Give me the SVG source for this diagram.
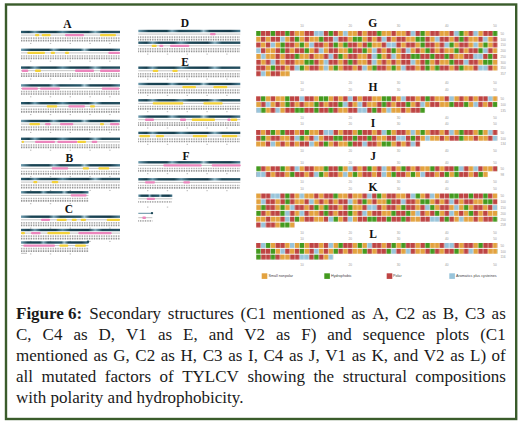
<svg xmlns="http://www.w3.org/2000/svg" xmlns:xlink="http://www.w3.org/1999/xlink" width="522" height="425" viewBox="0 0 522 425">
<style>
.cells rect{width:4.43px;height:4.9px}
.o{fill:#E3A23E}.g{fill:#439A1F}.r{fill:#BE4443}.b{fill:#98C4DA}
.y{fill:#F4D23A}.p{fill:#EC86BD}
.gl{stroke:#c4c4c4;stroke-width:1}
.d1{stroke:#9a9a9a;stroke-width:1.7;stroke-dasharray:0.8 0.9}
.d2{stroke:#7a7a7a;stroke-width:1.7;stroke-dasharray:0.8 0.9}
.nm{stroke:#b8b8b8;stroke-width:1;stroke-dasharray:1.4 18.4}
.lbl{font-family:"Liberation Serif",serif;font-weight:bold;font-size:11.5px;fill:#111;text-anchor:middle}
.ru{font-family:"Liberation Sans",sans-serif;font-size:3.2px;fill:#999;text-anchor:middle}
.rn{font-family:"Liberation Sans",sans-serif;font-size:3.2px;fill:#999}
.lg{font-family:"Liberation Sans",sans-serif;font-size:3.7px;fill:#444}
.cap{font-family:"Liberation Serif",serif;font-size:17px;fill:#1a1a1a}
</style>
<defs>
<linearGradient id="t1">
<stop offset="0" stop-color="#2c5d70"/><stop offset=".08" stop-color="#173f4f"/><stop offset=".14" stop-color="#6f9db0"/><stop offset=".2" stop-color="#1c4757"/><stop offset=".35" stop-color="#16404f"/><stop offset=".42" stop-color="#5b8ca0"/><stop offset=".5" stop-color="#1b4656"/><stop offset=".68" stop-color="#13394a"/><stop offset=".75" stop-color="#86b0c0"/><stop offset=".82" stop-color="#1d4858"/><stop offset="1" stop-color="#254f60"/>
</linearGradient>
<linearGradient id="t2">
<stop offset="0" stop-color="#6f9db0"/><stop offset=".1" stop-color="#1a4454"/><stop offset=".28" stop-color="#15404f"/><stop offset=".33" stop-color="#7aa6b8"/><stop offset=".4" stop-color="#1c4757"/><stop offset=".6" stop-color="#2a5a6c"/><stop offset=".64" stop-color="#9bbfcc"/><stop offset=".7" stop-color="#1b4555"/><stop offset=".9" stop-color="#13394a"/><stop offset="1" stop-color="#4d7f94"/>
</linearGradient>
<g id="bA">
<rect x="21" y="-1.2" width="99" height="2.4" fill="url(#t1)"/>
<line class="gl" x1="21" x2="120" y1="3.1" y2="3.1"/>
<line class="d1" x1="21" x2="120" y1="6.2" y2="6.2"/>
<line class="d2" x1="21" x2="120" y1="8.6" y2="8.6"/>
<line class="nm" x1="30" x2="120" y1="11.4" y2="11.4"/>
</g>
<g id="bB">
<rect x="21" y="-1.2" width="99" height="2.4" fill="url(#t2)"/>
<line class="gl" x1="21" x2="120" y1="3.1" y2="3.1"/>
<line class="d1" x1="21" x2="120" y1="6.2" y2="6.2"/>
<line class="d2" x1="21" x2="120" y1="8.6" y2="8.6"/>
<line class="nm" x1="30" x2="120" y1="11.4" y2="11.4"/>
</g>
<g id="bS">
<rect x="21" y="-1.2" width="67.5" height="2.4" fill="url(#t2)"/>
<line class="gl" x1="21" x2="88.5" y1="3.1" y2="3.1"/>
<line class="d1" x1="21" x2="88.5" y1="6.2" y2="6.2"/>
<line class="d2" x1="21" x2="88.5" y1="8.6" y2="8.6"/>
<line class="nm" x1="30" x2="88.5" y1="11.4" y2="11.4"/>
</g>
<g id="bR">
<rect x="138.3" y="-1.2" width="102" height="2.4" fill="url(#t1)"/>
<line class="gl" x1="138.3" x2="240.3" y1="3.1" y2="3.1"/>
<line class="d1" x1="138.3" x2="240.3" y1="6.2" y2="6.2"/>
<line class="d2" x1="138.3" x2="240.3" y1="8.6" y2="8.6"/>
<line class="nm" x1="147" x2="240.3" y1="11.4" y2="11.4"/>
</g>
<g id="bR2">
<rect x="138.3" y="-1.2" width="102" height="2.4" fill="url(#t2)"/>
<line class="gl" x1="138.3" x2="240.3" y1="3.1" y2="3.1"/>
<line class="d1" x1="138.3" x2="240.3" y1="6.2" y2="6.2"/>
<line class="d2" x1="138.3" x2="240.3" y1="8.6" y2="8.6"/>
<line class="nm" x1="147" x2="240.3" y1="11.4" y2="11.4"/>
</g>
<pattern id="p1" patternUnits="userSpaceOnUse" width="241.5" height="5"><g class="cells">
<rect class="g" x="0.2"/><rect class="r" x="5.03"/><rect class="r" x="9.86"/><rect class="g" x="14.69"/><rect class="r" x="19.52"/><rect class="r" x="24.35"/><rect class="g" x="29.18"/><rect class="r" x="34.01"/><rect class="o" x="38.84"/><rect class="o" x="43.67"/>
<rect class="r" x="48.5"/><rect class="r" x="53.33"/><rect class="b" x="58.16"/><rect class="b" x="62.99"/><rect class="r" x="67.82"/><rect class="g" x="72.65"/><rect class="r" x="77.48"/><rect class="o" x="82.31"/><rect class="b" x="87.14"/><rect class="o" x="91.97"/>
<rect class="o" x="96.8"/><rect class="r" x="101.63"/><rect class="o" x="106.46"/><rect class="r" x="111.29"/><rect class="r" x="116.12"/><rect class="g" x="120.95"/><rect class="o" x="125.78"/><rect class="o" x="130.61"/><rect class="r" x="135.44"/><rect class="o" x="140.27"/>
<rect class="o" x="145.1"/><rect class="r" x="149.93"/><rect class="b" x="154.76"/><rect class="r" x="159.59"/><rect class="g" x="164.42"/><rect class="o" x="169.25"/><rect class="r" x="174.08"/><rect class="r" x="178.91"/><rect class="o" x="183.74"/><rect class="o" x="188.57"/>
<rect class="r" x="193.4"/><rect class="b" x="198.23"/><rect class="g" x="203.06"/><rect class="o" x="207.89"/><rect class="r" x="212.72"/><rect class="b" x="217.55"/><rect class="o" x="222.38"/><rect class="r" x="227.21"/><rect class="r" x="232.04"/><rect class="g" x="236.87"/>
</g></pattern>
<pattern id="p2" patternUnits="userSpaceOnUse" width="241.5" height="5"><g class="cells">
<rect class="o" x="0.2"/><rect class="r" x="5.03"/><rect class="o" x="9.86"/><rect class="r" x="14.69"/><rect class="r" x="19.52"/><rect class="b" x="24.35"/><rect class="o" x="29.18"/><rect class="r" x="34.01"/><rect class="g" x="38.84"/><rect class="o" x="43.67"/>
<rect class="r" x="48.5"/><rect class="o" x="53.33"/><rect class="o" x="58.16"/><rect class="g" x="62.99"/><rect class="r" x="67.82"/><rect class="r" x="72.65"/><rect class="b" x="77.48"/><rect class="r" x="82.31"/><rect class="r" x="87.14"/><rect class="o" x="91.97"/>
<rect class="g" x="96.8"/><rect class="g" x="101.63"/><rect class="o" x="106.46"/><rect class="r" x="111.29"/><rect class="o" x="116.12"/><rect class="r" x="120.95"/><rect class="b" x="125.78"/><rect class="r" x="130.61"/><rect class="o" x="135.44"/><rect class="r" x="140.27"/>
<rect class="r" x="145.1"/><rect class="o" x="149.93"/><rect class="o" x="154.76"/><rect class="g" x="159.59"/><rect class="g" x="164.42"/><rect class="r" x="169.25"/><rect class="o" x="174.08"/><rect class="b" x="178.91"/><rect class="r" x="183.74"/><rect class="r" x="188.57"/>
<rect class="o" x="193.4"/><rect class="r" x="198.23"/><rect class="g" x="203.06"/><rect class="r" x="207.89"/><rect class="o" x="212.72"/><rect class="o" x="217.55"/><rect class="r" x="222.38"/><rect class="b" x="227.21"/><rect class="o" x="232.04"/><rect class="r" x="236.87"/>
</g></pattern>
<pattern id="p3" patternUnits="userSpaceOnUse" width="241.5" height="5"><g class="cells">
<rect class="r" x="0.2"/><rect class="o" x="5.03"/><rect class="r" x="9.86"/><rect class="b" x="14.69"/><rect class="o" x="19.52"/><rect class="g" x="24.35"/><rect class="r" x="29.18"/><rect class="r" x="34.01"/><rect class="o" x="38.84"/><rect class="g" x="43.67"/>
<rect class="o" x="48.5"/><rect class="b" x="53.33"/><rect class="r" x="58.16"/><rect class="r" x="62.99"/><rect class="o" x="67.82"/><rect class="r" x="72.65"/><rect class="g" x="77.48"/><rect class="o" x="82.31"/><rect class="g" x="87.14"/><rect class="r" x="91.97"/>
<rect class="r" x="96.8"/><rect class="o" x="101.63"/><rect class="r" x="106.46"/><rect class="g" x="111.29"/><rect class="o" x="116.12"/><rect class="o" x="120.95"/><rect class="r" x="125.78"/><rect class="b" x="130.61"/><rect class="b" x="135.44"/><rect class="r" x="140.27"/>
<rect class="o" x="145.1"/><rect class="r" x="149.93"/><rect class="r" x="154.76"/><rect class="o" x="159.59"/><rect class="g" x="164.42"/><rect class="r" x="169.25"/><rect class="r" x="174.08"/><rect class="o" x="178.91"/><rect class="r" x="183.74"/><rect class="b" x="188.57"/>
<rect class="g" x="193.4"/><rect class="o" x="198.23"/><rect class="r" x="203.06"/><rect class="r" x="207.89"/><rect class="o" x="212.72"/><rect class="b" x="217.55"/><rect class="o" x="222.38"/><rect class="g" x="227.21"/><rect class="o" x="232.04"/><rect class="r" x="236.87"/>
</g></pattern>
<pattern id="p4" patternUnits="userSpaceOnUse" width="241.5" height="5"><g class="cells">
<rect class="b" x="0.2"/><rect class="r" x="5.03"/><rect class="o" x="9.86"/><rect class="o" x="14.69"/><rect class="r" x="19.52"/><rect class="g" x="24.35"/><rect class="r" x="29.18"/><rect class="o" x="34.01"/><rect class="r" x="38.84"/><rect class="r" x="43.67"/>
<rect class="g" x="48.5"/><rect class="o" x="53.33"/><rect class="r" x="58.16"/><rect class="b" x="62.99"/><rect class="o" x="67.82"/><rect class="r" x="72.65"/><rect class="r" x="77.48"/><rect class="o" x="82.31"/><rect class="o" x="87.14"/><rect class="g" x="91.97"/>
<rect class="r" x="96.8"/><rect class="r" x="101.63"/><rect class="g" x="106.46"/><rect class="o" x="111.29"/><rect class="b" x="116.12"/><rect class="r" x="120.95"/><rect class="o" x="125.78"/><rect class="r" x="130.61"/><rect class="g" x="135.44"/><rect class="o" x="140.27"/>
<rect class="r" x="145.1"/><rect class="b" x="149.93"/><rect class="o" x="154.76"/><rect class="r" x="159.59"/><rect class="o" x="164.42"/><rect class="g" x="169.25"/><rect class="r" x="174.08"/><rect class="o" x="178.91"/><rect class="r" x="183.74"/><rect class="o" x="188.57"/>
<rect class="o" x="193.4"/><rect class="g" x="198.23"/><rect class="r" x="203.06"/><rect class="o" x="207.89"/><rect class="r" x="212.72"/><rect class="r" x="217.55"/><rect class="g" x="222.38"/><rect class="b" x="227.21"/><rect class="r" x="232.04"/><rect class="o" x="236.87"/>
</g></pattern>
</defs>
<rect width="522" height="425" fill="#fff"/>
<rect x="6" y="4.5" width="510.2" height="414.5" fill="none" stroke="#3a5c2b" stroke-width="2.4"/>

<g id="panel-A">
<text class="lbl" x="67.5" y="28">A</text>
<use href="#bA" y="32"/><rect class="y" x="35" y="34" width="4.3" height="2.3" rx="1"/><rect class="y" x="41.7" y="34" width="9" height="2.3" rx="1"/><rect class="p" x="65" y="34" width="19" height="2.3" rx="1"/><rect class="y" x="100" y="34" width="16" height="2.3" rx="1"/>
<use href="#bB" y="49.8"/><rect class="y" x="27.3" y="51.8" width="17.7" height="2.3" rx="1"/><rect class="y" x="50.7" y="51.8" width="4.3" height="2.3" rx="1"/><rect class="y" x="65" y="51.8" width="4" height="2.3" rx="1"/><rect class="p" x="108.3" y="51.8" width="11.7" height="2.3" rx="1"/>
<use href="#bA" y="67.6"/><rect class="p" x="21.7" y="69.6" width="6.6" height="2.3" rx="1"/><rect class="y" x="35" y="69.6" width="6" height="2.3" rx="1"/><rect class="p" x="75" y="69.6" width="19" height="2.3" rx="1"/><rect class="p" x="100" y="69.6" width="20" height="2.3" rx="1"/>
<use href="#bB" y="85.4"/><rect class="p" x="21.7" y="87.4" width="16.3" height="2.3" rx="1"/><rect class="p" x="40" y="87.4" width="20" height="2.3" rx="1"/><rect class="p" x="101.7" y="87.4" width="17.6" height="2.3" rx="1"/>
<use href="#bA" y="103.2"/><rect class="y" x="46.7" y="105.2" width="10.6" height="2.3" rx="1"/><rect class="p" x="68.3" y="105.2" width="16.7" height="2.3" rx="1"/><rect class="y" x="90" y="105.2" width="5" height="2.3" rx="1"/>
<use href="#bB" y="121"/><rect class="y" x="29.3" y="123" width="10.7" height="2.3" rx="1"/><rect class="p" x="45" y="123" width="5.7" height="2.3" rx="1"/><rect class="p" x="60" y="123" width="13.3" height="2.3" rx="1"/><rect class="y" x="100" y="123" width="4" height="2.3" rx="1"/><rect class="p" x="110" y="123" width="9.3" height="2.3" rx="1"/>
<use href="#bA" y="138.8"/><rect class="y" x="21.7" y="140.8" width="2.3" height="2.3" rx="1"/><rect class="p" x="35" y="140.8" width="20" height="2.3" rx="1"/><rect class="p" x="57.3" y="140.8" width="20" height="2.3" rx="1"/><rect class="y" x="77.3" y="140.8" width="8.7" height="2.3" rx="1"/><rect class="p" x="91.7" y="140.8" width="5.6" height="2.3" rx="1"/>
</g>

<g id="panel-B">
<text class="lbl" x="69.3" y="162.3">B</text>
<use href="#bB" y="165.3"/><rect class="p" x="51.7" y="167.3" width="16.6" height="2.3" rx="1"/><rect class="y" x="82.7" y="167.3" width="6.3" height="2.3" rx="1"/><rect class="y" x="98.3" y="167.3" width="11" height="2.3" rx="1"/>
<use href="#bA" y="179"/><rect class="y" x="33.3" y="181" width="4" height="2.3" rx="1"/><rect class="y" x="51.7" y="181" width="6.6" height="2.3" rx="1"/>
<use href="#bS" y="192.3"/><rect class="p" x="70.7" y="194.3" width="16" height="2.3" rx="1"/>
</g>

<g id="panel-C">
<text class="lbl" x="69" y="213">C</text>
<use href="#bB" y="216.7"/><rect class="p" x="41" y="218.7" width="9" height="2.3" rx="1"/><rect class="y" x="56.7" y="218.7" width="10" height="2.3" rx="1"/><rect class="y" x="71.7" y="218.7" width="5" height="2.3" rx="1"/><rect class="y" x="80.7" y="218.7" width="5.3" height="2.3" rx="1"/><rect class="y" x="106.7" y="218.7" width="13.3" height="2.3" rx="1"/>
<use href="#bA" y="230"/><rect class="y" x="21" y="232" width="4" height="2.3" rx="1"/><rect class="p" x="31" y="232" width="9.7" height="2.3" rx="1"/><rect class="y" x="47.3" y="232" width="22.7" height="2.3" rx="1"/><rect class="p" x="78.3" y="232" width="33.4" height="2.3" rx="1"/>
<use href="#bS" y="242.5"/><circle cx="88" cy="241.8" r="1.3" fill="#1d4858"/><rect class="p" x="23.3" y="244.5" width="31.7" height="2.3" rx="1"/><rect class="y" x="59.3" y="244.5" width="9" height="2.3" rx="1"/><rect class="y" x="75" y="244.5" width="11" height="2.3" rx="1"/>
<line x1="21" x2="27" y1="253.3" y2="253.3" stroke="#aaa" stroke-width="0.8"/>
</g>

<g id="panel-D">
<text class="lbl" x="185" y="27.3">D</text>
<use href="#bR2" y="31"/><rect class="p" x="210" y="33" width="5.7" height="2.3" rx="1"/>
<use href="#bR" y="42.7"/><rect class="y" x="151.7" y="44.7" width="5" height="2.3" rx="1"/><rect class="p" x="159.3" y="44.7" width="4" height="2.3" rx="1"/><rect class="p" x="170" y="44.7" width="19.3" height="2.3" rx="1"/>
</g>

<g id="panel-E">
<text class="lbl" x="185" y="65.7">E</text>
<use href="#bR" y="67.7"/><rect class="y" x="152.7" y="69.7" width="5.6" height="2.3" rx="1"/><rect class="y" x="172.3" y="69.7" width="5.4" height="2.3" rx="1"/>
<use href="#bR2" y="84"/><rect class="y" x="182.3" y="86" width="13.7" height="2.3" rx="1"/><rect class="y" x="213.3" y="86" width="14" height="2.3" rx="1"/>
<use href="#bR" y="100.3"/><rect class="y" x="152.7" y="102.3" width="30.6" height="2.3" rx="1"/><rect class="y" x="203.3" y="102.3" width="19.4" height="2.3" rx="1"/>
<use href="#bR2" y="116.6"/><rect class="p" x="145" y="118.6" width="9" height="2.3" rx="1"/><rect class="p" x="180" y="118.6" width="6" height="2.3" rx="1"/><rect class="y" x="191.7" y="118.6" width="23.3" height="2.3" rx="1"/><rect class="p" x="227.3" y="118.6" width="3.4" height="2.3" rx="1"/><rect class="y" x="230.7" y="118.6" width="6.6" height="2.3" rx="1"/>
<use href="#bR" y="132.9"/><rect class="y" x="139.3" y="134.9" width="10.7" height="2.3" rx="1"/><rect class="y" x="156" y="134.9" width="8" height="2.3" rx="1"/><rect class="y" x="192.7" y="134.9" width="14.6" height="2.3" rx="1"/><rect class="y" x="221.7" y="134.9" width="15.6" height="2.3" rx="1"/>
</g>

<g id="panel-F">
<text class="lbl" x="186" y="159.7">F</text>
<use href="#bR2" y="162.3"/><rect class="p" x="163.3" y="164.3" width="38.4" height="2.3" rx="1"/><rect class="p" x="211.7" y="164.3" width="29" height="2.3" rx="1"/>
<use href="#bR" y="179.3"/><rect class="p" x="145" y="181.3" width="10" height="2.3" rx="1"/><rect class="p" x="183.3" y="181.3" width="6.7" height="2.3" rx="1"/>
<g transform="translate(0,195.7)">
<rect x="138.3" y="-1.2" width="34" height="2.4" fill="url(#t2)"/>
<line class="gl" x1="138.3" x2="172.3" y1="3.1" y2="3.1"/>
<line class="d1" x1="138.3" x2="172.3" y1="6.2" y2="6.2"/>
<line class="nm" x1="147" x2="172.3" y1="11.4" y2="11.4"/>
<rect class="p" x="146.7" y="2" width="8.3" height="2.3" rx="1"/>
</g>
<g transform="translate(0,213.3)">
<line x1="138.3" x2="152" y1="0" y2="0" stroke="#4d7f94" stroke-width="0.9"/>
<circle cx="152" cy="-0.2" r="1.2" fill="#1d4858"/>
<line class="gl" x1="138.3" x2="152.3" y1="4.4" y2="4.4"/>
<rect class="p" x="142.3" y="3.3" width="3.7" height="2.3" rx="1"/>
<line class="d1" x1="138.3" x2="152.3" y1="7.5" y2="7.5"/>
</g>
</g>

<g id="panel-G">
<text class="lbl" x="372.7" y="27.3">G</text>
<text class="ru" y="27.3"><tspan x="301.9">10</tspan><tspan x="350.2">20</tspan><tspan x="398.5">30</tspan><tspan x="446.8">40</tspan><tspan x="495.1">50</tspan></text>
<rect transform="translate(256,31)" x="0" width="241.5" height="5" fill="url(#p1)"/>
<rect transform="translate(256,36.75)" x="0" width="241.5" height="5" fill="url(#p2)"/>
<rect transform="translate(256,42.5)" x="0" width="241.5" height="5" fill="url(#p3)"/>
<rect transform="translate(256,48.25)" x="0" width="241.5" height="5" fill="url(#p4)"/>
<rect transform="translate(173.89,54)" x="82.11" width="241.5" height="5" fill="url(#p1)"/>
<rect transform="translate(144.91,59.75)" x="111.09" width="241.5" height="5" fill="url(#p2)"/>
<rect transform="translate(106.27,65.5)" x="149.73" width="241.5" height="5" fill="url(#p3)"/>
<rect transform="translate(198.04,71.25)" x="57.96" width="33.81" height="5" fill="url(#p4)"/>
<text class="rn" x="500.5"><tspan y="34.8">50</tspan><tspan x="500.5" y="40.55">100</tspan><tspan x="500.5" y="46.3">150</tspan><tspan x="500.5" y="52.05">200</tspan><tspan x="500.5" y="57.8">250</tspan><tspan x="500.5" y="63.55">300</tspan><tspan x="500.5" y="69.3">350</tspan><tspan x="500.5" y="75.05">357</tspan></text>
<text class="ru" y="84"><tspan x="301.9">10</tspan><tspan x="350.2">20</tspan><tspan x="398.5">30</tspan><tspan x="446.8">40</tspan><tspan x="495.1">50</tspan></text>
</g>

<g id="panel-H">
<text class="lbl" x="373" y="90.7">H</text>
<text class="ru" y="91.3"><tspan x="301.9">10</tspan><tspan x="350.2">20</tspan><tspan x="398.5">30</tspan><tspan x="446.8">40</tspan><tspan x="495.1">50</tspan></text>
<rect transform="translate(222.19,96.3)" x="33.81" width="241.5" height="5" fill="url(#p2)"/>
<rect transform="translate(115.93,102.05)" x="140.07" width="241.5" height="5" fill="url(#p4)"/>
<rect transform="translate(57.97,107.8)" x="198.03" width="169.05" height="5" fill="url(#p1)"/>
<text class="rn" x="500.5"><tspan y="100.1">50</tspan><tspan x="500.5" y="105.85">100</tspan><tspan x="500.5" y="111.6">135</tspan></text>
<text class="ru" y="119"><tspan x="301.9">10</tspan><tspan x="350.2">20</tspan><tspan x="398.5">30</tspan><tspan x="446.8">40</tspan><tspan x="495.1">50</tspan></text>
</g>

<g id="panel-I">
<text class="lbl" x="373" y="127.3">I</text>
<text class="ru" y="125.3"><tspan x="301.9">10</tspan><tspan x="350.2">20</tspan><tspan x="398.5">30</tspan><tspan x="446.8">40</tspan><tspan x="495.1">50</tspan></text>
<rect transform="translate(193.21,130)" x="62.79" width="241.5" height="5" fill="url(#p3)"/>
<rect transform="translate(96.61,135.75)" x="159.39" width="241.5" height="5" fill="url(#p1)"/>
<rect transform="translate(43.48,141.5)" x="212.52" width="164.22" height="5" fill="url(#p2)"/>
<text class="rn" x="500.5"><tspan y="133.8">50</tspan><tspan x="500.5" y="139.55">100</tspan><tspan x="500.5" y="145.3">134</tspan></text>
<text class="ru" y="152.3"><tspan x="301.9">10</tspan><tspan x="350.2">20</tspan><tspan x="398.5">30</tspan><tspan x="446.8">40</tspan><tspan x="495.1">50</tspan></text>
</g>

<g id="panel-J">
<text class="lbl" x="373" y="160">J</text>
<text class="ru" y="163.6"><tspan x="301.9">10</tspan><tspan x="350.2">20</tspan><tspan x="398.5">30</tspan><tspan x="446.8">40</tspan><tspan x="495.1">50</tspan></text>
<rect transform="translate(231.85,166.3)" x="24.15" width="241.5" height="5" fill="url(#p4)"/>
<rect transform="translate(125.59,172.05)" x="130.41" width="231.84" height="5" fill="url(#p3)"/>
<text class="rn" x="500.5"><tspan y="170.1">50</tspan><tspan x="500.5" y="175.85">98</tspan></text>
<text class="ru" y="183.3"><tspan x="301.9">10</tspan><tspan x="350.2">20</tspan><tspan x="398.5">30</tspan><tspan x="446.8">40</tspan><tspan x="495.1">50</tspan></text>
</g>

<g id="panel-K">
<text class="lbl" x="373" y="190.7">K</text>
<text class="ru" y="190.3"><tspan x="301.9">10</tspan><tspan x="350.2">20</tspan><tspan x="398.5">30</tspan><tspan x="446.8">40</tspan><tspan x="495.1">50</tspan></text>
<rect transform="translate(212.53,193.5)" x="43.47" width="241.5" height="5" fill="url(#p1)"/>
<rect transform="translate(82.12,199.3)" x="173.88" width="241.5" height="5" fill="url(#p2)"/>
<rect transform="translate(236.68,205.1)" x="19.32" width="241.5" height="5" fill="url(#p3)"/>
<rect transform="translate(57.97,210.9)" x="198.03" width="241.5" height="5" fill="url(#p4)"/>
<rect transform="translate(130.42,216.7)" x="125.58" width="241.5" height="5" fill="url(#p1)"/>
<rect transform="translate(183.55,222.5)" x="72.45" width="38.64" height="5" fill="url(#p2)"/>
<text class="rn" x="500.5"><tspan y="197.3">50</tspan><tspan x="500.5" y="203.1">100</tspan><tspan x="500.5" y="208.9">150</tspan><tspan x="500.5" y="214.7">200</tspan><tspan x="500.5" y="220.5">250</tspan><tspan x="500.5" y="226.3">258</tspan></text>
<text class="ru" y="233.6"><tspan x="301.9">10</tspan><tspan x="350.2">20</tspan><tspan x="398.5">30</tspan><tspan x="446.8">40</tspan><tspan x="495.1">50</tspan></text>
</g>

<g id="panel-L">
<text class="lbl" x="373" y="238.3">L</text>
<text class="ru" y="240"><tspan x="301.9">10</tspan><tspan x="350.2">20</tspan><tspan x="398.5">30</tspan><tspan x="446.8">40</tspan><tspan x="495.1">50</tspan></text>
<rect transform="translate(72.46,243)" x="183.54" width="241.5" height="5" fill="url(#p3)"/>
<rect transform="translate(164.23,248.8)" x="91.77" width="241.5" height="5" fill="url(#p4)"/>
<rect transform="translate(241.51,254.6)" x="14.49" width="77.28" height="5" fill="url(#p1)"/>
<text class="rn" x="500.5"><tspan y="246.8">50</tspan><tspan x="500.5" y="252.6">100</tspan><tspan x="500.5" y="258.4">116</tspan></text>
<text class="ru" y="265.6"><tspan x="301.9">10</tspan><tspan x="350.2">20</tspan><tspan x="398.5">30</tspan><tspan x="446.8">40</tspan><tspan x="495.1">50</tspan></text>
</g>

<g id="legend">
<rect class="o" x="261.7" y="273.3" width="5.6" height="5.6"/><text class="lg" x="268.5" y="277.4">Small nonpolar</text>
<rect class="g" x="324.3" y="273.3" width="5.6" height="5.6"/><text class="lg" x="331" y="277.4">Hydrophobic</text>
<rect class="r" x="386.7" y="273.3" width="5.6" height="5.6"/><text class="lg" x="393" y="277.4">Polar</text>
<rect class="b" x="449.3" y="273.3" width="5.6" height="5.6"/><text class="lg" x="456" y="277.4">Aromatics plus cysteines</text>
</g>

<g id="caption" class="cap">
<text y="319"><tspan x="16" font-weight="bold">Figure 6:</tspan><tspan x="89.3">Secondary</tspan><tspan x="167.8">structures</tspan><tspan x="240.6">(C1</tspan><tspan x="272.8">mentioned</tspan><tspan x="351.3">as</tspan><tspan x="372.2">A,</tspan><tspan x="395.4">C2</tspan><tspan x="421.9">as</tspan><tspan x="442.8">B,</tspan><tspan x="465.1">C3</tspan><tspan x="491.6">as</tspan></text>
<text y="340"><tspan x="16">C,</tspan><tspan x="42.6">C4</tspan><tspan x="73.4">as</tspan><tspan x="98.6">D,</tspan><tspan x="126.1">V1</tspan><tspan x="157.9">as</tspan><tspan x="183.1">E,</tspan><tspan x="208.7">and</tspan><tspan x="244.2">V2</tspan><tspan x="276">as</tspan><tspan x="301.2">F)</tspan><tspan x="327.3">and</tspan><tspan x="362.8">sequence</tspan><tspan x="436.1">plots</tspan><tspan x="480.2">(C1</tspan></text>
<text y="361"><tspan x="16">mentioned</tspan><tspan x="93.4">as</tspan><tspan x="113.2">G,</tspan><tspan x="135.3">C2</tspan><tspan x="160.8">as</tspan><tspan x="180.6">H,</tspan><tspan x="202.7">C3</tspan><tspan x="228.2">as</tspan><tspan x="248">I,</tspan><tspan x="263.5">C4</tspan><tspan x="289">as</tspan><tspan x="308.8">J,</tspan><tspan x="325.3">V1</tspan><tspan x="351.7">as</tspan><tspan x="371.5">K,</tspan><tspan x="393.6">and</tspan><tspan x="423.8">V2</tspan><tspan x="450.2">as</tspan><tspan x="470">L)</tspan><tspan x="491.6">of</tspan></text>
<text y="382"><tspan x="16">all</tspan><tspan x="41.5">mutated</tspan><tspan x="104.8">factors</tspan><tspan x="159.6">of</tspan><tspan x="182.2">TYLCV</tspan><tspan x="247.4">showing</tspan><tspan x="313.4">the</tspan><tspan x="342.7">structural</tspan><tspan x="415.3">compositions</tspan></text>
<text x="16" y="403">with polarity and hydrophobicity.</text>
</g>
</svg>
